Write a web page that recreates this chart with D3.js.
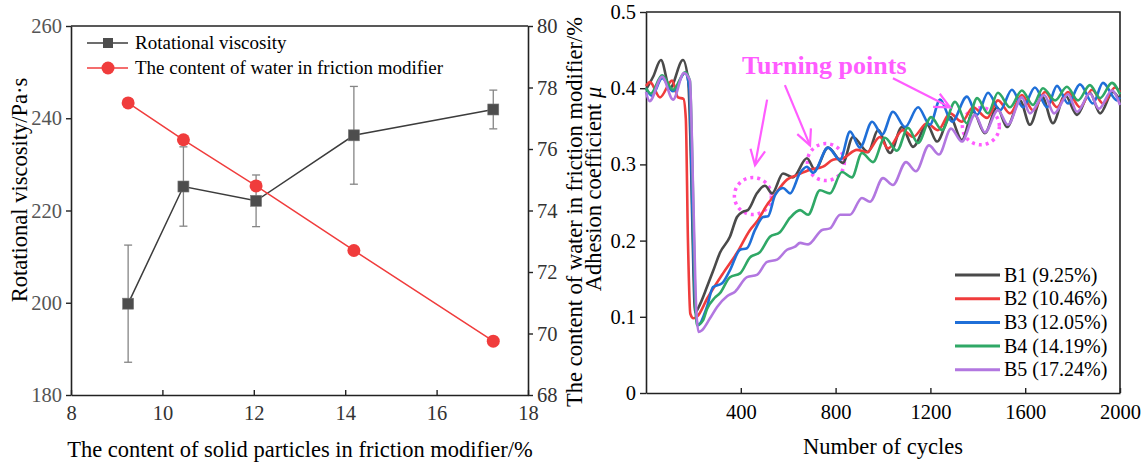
<!DOCTYPE html>
<html>
<head>
<meta charset="utf-8">
<script src="https://cdn.jsdelivr.net/npm/d3@7"></script>
<style>
  body { margin: 0; background: #fff; }
  svg { display: block; }
</style>
</head>
<body>
<svg id="chart" width="1148" height="468"></svg>
<script>
// ---- left panel data ----
const solidContent = [9.25, 10.46, 12.05, 14.19, 17.24];
const viscosity = [199.8, 225.2, 222.1, 236.3, 241.9];
const viscosityErr = [12.7, 8.6, 5.6, 10.6, 4.2];
const waterContent = [77.5, 76.3, 74.8, 72.7, 69.75];
const solidTicks = [8, 10, 12, 14, 16, 18];
const viscosityTicks = [180, 200, 220, 240, 260];
const waterTicks = [68, 70, 72, 74, 76, 78, 80];

// ---- right panel data: [cycles, adhesion coefficient] ----
const seriesNames = ['B1 (9.25%)', 'B2 (10.46%)', 'B3 (12.05%)', 'B4 (14.19%)', 'B5 (17.24%)'];
const b1 = [[0,0.398],[30,0.415],[63,0.437],[101,0.400],[156,0.437],[178,0.41],[190,0.30],[200,0.16],[207,0.106],
  [230,0.118],[257,0.139],[283,0.160],[312,0.184],[354,0.205],[384,0.231],[410,0.238],[430,0.240],[468,0.262],
  [502,0.272],[532,0.262],[578,0.288],[620,0.283],[679,0.308],[713,0.293],[768,0.322],[831,0.302],[873,0.336],
  [937,0.316],[979,0.345],[1030,0.315],[1080,0.349],[1127,0.323],[1186,0.352],[1228,0.330],[1283,0.362],
  [1333,0.332],[1380,0.369],[1430,0.341],[1481,0.375],[1523,0.349],[1578,0.384],[1620,0.352],[1671,0.389],
  [1717,0.354],[1768,0.391],[1819,0.365],[1873,0.394],[1916,0.367],[1970,0.395],[2000,0.384]];
const b2 = [[0,0.403],[17,0.408],[59,0.388],[110,0.41],[135,0.388],[158,0.386],[168,0.36],[177,0.20],[187,0.104],
  [200,0.098],[215,0.100],[260,0.125],[325,0.157],[384,0.184],[439,0.214],[468,0.225],[515,0.249],[536,0.257],
  [595,0.28],[637,0.286],[692,0.293],[747,0.297],[789,0.306],[831,0.308],[890,0.319],[932,0.316],[987,0.336],
  [1021,0.321],[1084,0.345],[1127,0.336],[1186,0.354],[1232,0.345],[1283,0.367],[1333,0.356],[1380,0.375],
  [1439,0.361],[1485,0.384],[1536,0.367],[1586,0.391],[1633,0.371],[1684,0.395],[1734,0.375],[1781,0.395],
  [1831,0.375],[1882,0.398],[1928,0.380],[1979,0.401],[2000,0.395]];
const b3 = [[0,0.40],[25,0.39],[68,0.413],[114,0.396],[165,0.42],[183,0.40],[195,0.25],[207,0.12],[219,0.089],
  [257,0.113],[283,0.139],[321,0.144],[354,0.161],[397,0.188],[426,0.190],[460,0.214],[494,0.231],[515,0.232],
  [545,0.26],[578,0.269],[608,0.262],[650,0.289],[679,0.297],[705,0.289],[768,0.322],[819,0.306],[861,0.343],
  [903,0.322],[954,0.356],[996,0.339],[1042,0.369],[1093,0.349],[1148,0.375],[1198,0.352],[1241,0.385],
  [1291,0.356],[1354,0.389],[1397,0.365],[1443,0.394],[1494,0.371],[1544,0.398],[1591,0.375],[1641,0.401],
  [1692,0.375],[1734,0.403],[1781,0.380],[1831,0.405],[1886,0.380],[1928,0.407],[1987,0.384],[2000,0.388]];
const b4 = [[0,0.40],[20,0.393],[68,0.417],[114,0.398],[165,0.421],[185,0.41],[197,0.28],[207,0.13],[215,0.089],
  [240,0.095],[257,0.110],[290,0.125],[312,0.131],[354,0.152],[397,0.157],[439,0.178],[481,0.185],[523,0.205],
  [565,0.211],[608,0.230],[650,0.240],[684,0.234],[734,0.266],[776,0.262],[827,0.29],[869,0.283],[911,0.315],
  [958,0.303],[1008,0.335],[1059,0.318],[1105,0.348],[1148,0.328],[1203,0.362],[1249,0.345],[1304,0.382],
  [1354,0.354],[1397,0.387],[1443,0.367],[1485,0.394],[1536,0.375],[1586,0.397],[1633,0.378],[1675,0.40],
  [1726,0.384],[1776,0.402],[1823,0.384],[1873,0.404],[1916,0.387],[1966,0.407],[2000,0.392]];
const b5 = [[0,0.395],[15,0.383],[68,0.415],[114,0.385],[160,0.42],[185,0.41],[200,0.25],[212,0.11],[222,0.080],
  [235,0.082],[270,0.098],[300,0.113],[342,0.127],[376,0.133],[426,0.152],[468,0.155],[511,0.172],[553,0.175],
  [595,0.188],[629,0.192],[650,0.197],[684,0.195],[743,0.214],[776,0.216],[819,0.234],[861,0.234],[911,0.256],
  [945,0.251],[1000,0.282],[1042,0.273],[1097,0.303],[1139,0.291],[1194,0.325],[1236,0.313],[1287,0.347],
  [1333,0.330],[1388,0.365],[1430,0.342],[1485,0.371],[1527,0.352],[1586,0.388],[1620,0.367],[1680,0.391],
  [1722,0.367],[1781,0.392],[1819,0.369],[1873,0.393],[1911,0.373],[1966,0.397],[2000,0.378]];
const cycleTicks = [400, 800, 1200, 1600, 2000];
const muTicks = [0, 0.1, 0.2, 0.3, 0.4, 0.5];

// turning point annotations, in data units
const turningCircles = [[451, 0.2585], [759, 0.303], [1413, 0.350]];
const turningArrows = [[[511, 0.385], [460, 0.299]], [[586, 0.404], [692, 0.325]], [[1042, 0.413], [1283, 0.375]]];

const seriesColors = ['#4a4a4a', '#f03c3c', '#1f6fd8', '#2fa866', '#b277e0'];
const pink = '#ff5cff';
const serif = '"Liberation Serif", "Times New Roman", serif';

const svg = d3.select('#chart').attr('font-family', serif);
svg.append('rect').attr('width', 1148).attr('height', 468).attr('fill', '#fff');

function styleAxis(g, textColor) {
  g.attr('font-family', serif).attr('font-size', 20.5);
  g.select('.domain').attr('stroke', '#222').attr('stroke-width', 1.6);
  g.selectAll('.tick line').attr('stroke', '#222').attr('stroke-width', 1.4);
  g.selectAll('.tick text').attr('fill', textColor);
}

function drawLeft() {
  const m = {left: 71, right: 528, top: 26, bottom: 395};
  const x = d3.scaleLinear().domain([8, 18]).range([m.left, m.right]);
  const yL = d3.scaleLinear().domain([180, 260]).range([m.bottom, m.top]);
  const yR = d3.scaleLinear().domain([68, 80]).range([m.bottom, m.top]);
  const g = svg.append('g');

  g.append('line').attr('x1', m.left).attr('x2', m.right).attr('y1', m.top).attr('y2', m.top)
    .attr('stroke', '#222').attr('stroke-width', 1.6);

  g.append('g').attr('transform', `translate(0,${m.bottom})`)
    .call(d3.axisBottom(x).tickValues(solidTicks).tickFormat(d3.format('d')).tickSize(-5).tickSizeOuter(0).tickPadding(10))
    .call(a => styleAxis(a, '#333'));
  g.append('g').attr('transform', `translate(${m.left},0)`)
    .call(d3.axisLeft(yL).tickValues(viscosityTicks).tickFormat(d3.format('d')).tickSize(5).tickSizeOuter(0).tickPadding(4))
    .call(a => styleAxis(a, '#555'));
  g.append('g').attr('transform', `translate(${m.right},0)`)
    .call(d3.axisRight(yR).tickValues(waterTicks).tickFormat(d3.format('d')).tickSize(5).tickSizeOuter(0).tickPadding(4))
    .call(a => styleAxis(a, '#333'));

  const rows = solidContent.map((s, i) => ({s, v: viscosity[i], e: viscosityErr[i], w: waterContent[i]}));

  // viscosity line + error bars + squares
  g.append('path').datum(rows)
    .attr('d', d3.line().x(d => x(d.s)).y(d => yL(d.v)))
    .attr('fill', 'none').attr('stroke', '#3c3c3c').attr('stroke-width', 1.5);
  const eb = g.selectAll('.err').data(rows).enter().append('g').attr('stroke', '#858585').attr('stroke-width', 1.3);
  eb.append('line').attr('x1', d => x(d.s)).attr('x2', d => x(d.s))
    .attr('y1', d => yL(d.v - d.e)).attr('y2', d => yL(d.v + d.e));
  eb.append('line').attr('x1', d => x(d.s) - 4).attr('x2', d => x(d.s) + 4)
    .attr('y1', d => yL(d.v - d.e)).attr('y2', d => yL(d.v - d.e));
  eb.append('line').attr('x1', d => x(d.s) - 4).attr('x2', d => x(d.s) + 4)
    .attr('y1', d => yL(d.v + d.e)).attr('y2', d => yL(d.v + d.e));

  // water line + circles
  g.append('path').datum(rows)
    .attr('d', d3.line().x(d => x(d.s)).y(d => yR(d.w)))
    .attr('fill', 'none').attr('stroke', '#f03c3c').attr('stroke-width', 1.5);
  g.selectAll('.sq').data(rows).enter().append('rect')
    .attr('x', d => x(d.s) - 5.5).attr('y', d => yL(d.v) - 5.5)
    .attr('width', 11).attr('height', 11).attr('fill', '#4d4d4d').attr('stroke', '#777').attr('stroke-width', 0.6);
  g.selectAll('.dot').data(rows).enter().append('circle')
    .attr('cx', d => x(d.s)).attr('cy', d => yR(d.w)).attr('r', 6.5).attr('fill', '#f03c3c');

  // legend
  const lg = g.append('g').attr('font-size', 19);
  lg.append('line').attr('x1', 87).attr('x2', 128).attr('y1', 43).attr('y2', 43).attr('stroke', '#3c3c3c').attr('stroke-width', 1.5);
  lg.append('rect').attr('x', 103).attr('y', 38).attr('width', 10).attr('height', 10).attr('fill', '#4d4d4d');
  lg.append('text').attr('x', 135).attr('y', 49).text('Rotational viscosity');
  lg.append('line').attr('x1', 87).attr('x2', 128).attr('y1', 68).attr('y2', 68).attr('stroke', '#f03c3c').attr('stroke-width', 1.5);
  lg.append('circle').attr('cx', 108).attr('cy', 68).attr('r', 6.5).attr('fill', '#f03c3c');
  lg.append('text').attr('x', 135).attr('y', 74).text('The content of water in friction modifier');

  // titles
  g.append('text').attr('x', 300).attr('y', 457).attr('text-anchor', 'middle').attr('font-size', 22.5)
    .text('The content of solid particles in friction modifier/%');
  g.append('text').attr('transform', 'translate(27,190) rotate(-90)').attr('text-anchor', 'middle').attr('font-size', 22.5)
    .text('Rotational viscosity/Pa·s');
  g.append('text').attr('transform', 'translate(582,212) rotate(-90)').attr('text-anchor', 'middle').attr('font-size', 22.5)
    .text('The content of water in friction modifier/%');
}

function drawRight() {
  const m = {left: 646, right: 1120, top: 12, bottom: 393};
  const x = d3.scaleLinear().domain([0, 2000]).range([m.left, m.right]);
  const y = d3.scaleLinear().domain([0, 0.5]).range([m.bottom, m.top]);
  const g = svg.append('g');

  g.append('path').attr('d', `M${m.left},${m.top}H${m.right}V${m.bottom}`)
    .attr('fill', 'none').attr('stroke', '#222').attr('stroke-width', 1.6);

  g.append('g').attr('transform', `translate(0,${m.bottom})`)
    .call(d3.axisBottom(x).tickValues(cycleTicks).tickFormat(d3.format('d')).tickSize(-5).tickSizeOuter(0).tickPadding(11))
    .call(a => styleAxis(a, '#000'));
  g.append('g').attr('transform', `translate(${m.left},0)`)
    .call(d3.axisLeft(y).tickValues(muTicks).tickFormat(d => d === 0 ? '0' : d.toFixed(1))
      .tickSize(6).tickSizeOuter(0).tickPadding(4))
    .call(a => styleAxis(a, '#000'));

  // annotation circles (behind the curves)
  g.selectAll('.tp').data(turningCircles).enter().append('circle')
    .attr('cx', d => x(d[0])).attr('cy', d => y(d[1])).attr('r', 18.5)
    .attr('fill', 'none').attr('stroke', pink).attr('stroke-width', 3.5).attr('stroke-dasharray', '3 4');

  const line = d3.line().x(d => x(d[0])).y(d => y(d[1])).curve(d3.curveMonotoneX);
  [b1, b2, b3, b4, b5].forEach((s, i) => {
    g.append('path').datum(s).attr('d', line)
      .attr('fill', 'none').attr('stroke', seriesColors[i]).attr('stroke-width', 2.6).attr('stroke-linejoin', 'round');
  });

  // arrows
  turningArrows.forEach(([p0, p1]) => {
    const x0 = x(p0[0]), y0 = y(p0[1]), x1 = x(p1[0]), y1 = y(p1[1]);
    const ang = Math.atan2(y1 - y0, x1 - x0);
    const len = 17, spread = 0.45;
    const a = g.append('g').attr('stroke', pink).attr('stroke-width', 2.2).attr('fill', 'none');
    a.append('line').attr('x1', x0).attr('y1', y0).attr('x2', x1).attr('y2', y1);
    a.append('path').attr('d', `M${x1 - len * Math.cos(ang - spread)},${y1 - len * Math.sin(ang - spread)}L${x1},${y1}L${x1 - len * Math.cos(ang + spread)},${y1 - len * Math.sin(ang + spread)}`);
  });
  g.append('text').attr('x', x(405)).attr('y', y(0.418)).attr('fill', pink)
    .attr('font-size', 26).attr('font-weight', 'bold').text('Turning points');

  // legend
  const lg = g.append('g').attr('font-size', 20);
  seriesNames.forEach((n, i) => {
    const yy = 275 + i * 23.7;
    lg.append('line').attr('x1', 955).attr('x2', 1000).attr('y1', yy).attr('y2', yy)
      .attr('stroke', seriesColors[i]).attr('stroke-width', 3);
    lg.append('text').attr('x', 1004).attr('y', yy + 6.5).text(n);
  });

  g.append('text').attr('x', 883).attr('y', 454).attr('text-anchor', 'middle').attr('font-size', 22.5).text('Number of cycles');
  const yt = g.append('text').attr('transform', 'translate(601,189) rotate(-90)').attr('text-anchor', 'middle').attr('font-size', 22.5);
  yt.append('tspan').text('Adhesion coefficient ');
  yt.append('tspan').attr('font-style', 'italic').text('μ');
}

drawLeft();
drawRight();
</script>
</body>
</html>
